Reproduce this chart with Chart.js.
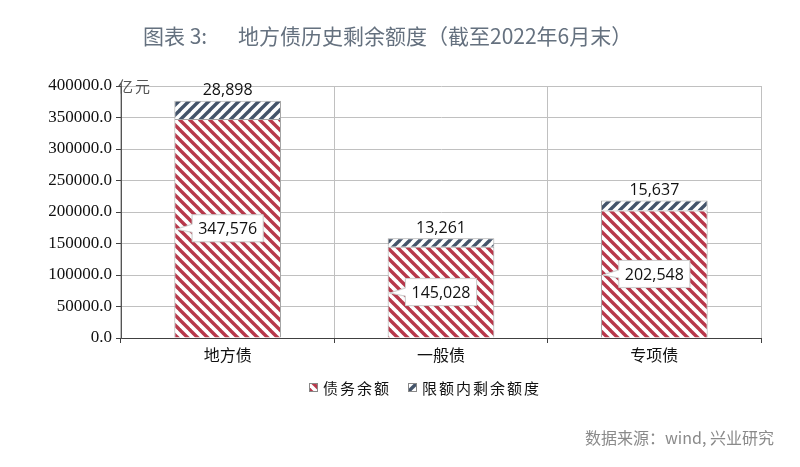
<!DOCTYPE html>
<html>
<head>
<meta charset="utf-8">
<script src="https://cdn.jsdelivr.net/npm/chart.js@4"></script>
<style>
  body { margin: 0; background: #fff; }
  #wrap { width: 800px; height: 467px; position: relative; }
</style>
</head>
<body>
<div id="wrap"><canvas id="debtChart"></canvas></div>
<script>
// data (亿元)
const categories = ['地方债', '一般债', '专项债'];
const debtBalance = [347576, 145028, 202548];      // 债务余额
const remainingQuota = [28898, 13261, 15637];      // 限额内剩余额度
const seriesNames = ['债务余额', '限额内剩余额度'];
const yTicks = { min: 0, max: 400000, step: 50000 };

const titleText = '图表 3:';
const titleMain = '地方债历史剩余额度（截至2022年6月末）';
const unitText = '亿元';
const sourceText = '数据来源：wind, 兴业研究';

// striped fills
function makeStripes(color, dir) {
    const s = 10;
    const c = document.createElement('canvas');
    c.width = s; c.height = s;
    const g = c.getContext('2d');
    g.fillStyle = '#fff';
    g.fillRect(0, 0, s, s);
    g.strokeStyle = color;
    g.lineWidth = 3.4;
    for (let k = -s; k <= s; k += s) {
        g.beginPath();
        if (dir === 'down') {
            g.moveTo(k - 1, -1); g.lineTo(k + s + 1, s + 1);
        } else {
            g.moveTo(k - 1, s + 1); g.lineTo(k + s + 1, -1);
        }
        g.stroke();
    }
    return g.createPattern(c, 'repeat');
}
const redStripes = makeStripes('#b8384b', 'down');
const blueStripes = makeStripes('#44546a', 'up');

const fmt = v => v.toLocaleString('en-US');

// labels, title, legend, source
const decorPlugin = {
    id: 'decor',
    afterDatasetsDraw(chart) {
        const ctx = chart.ctx;
        const debtMeta = chart.getDatasetMeta(0);
        const remMeta = chart.getDatasetMeta(1);
        ctx.save();
        ctx.font = '16px "Open Sans", sans-serif';
        ctx.textAlign = 'center';
        ctx.textBaseline = 'middle';

        debtMeta.data.forEach((bar, i) => {
            const cy = (bar.y + bar.base) / 2;
            const txt = fmt(debtBalance[i]);
            const w = ctx.measureText(txt).width + 12;
            const h = 27;
            const bx = bar.x - w / 2, by = cy - h / 2;
            const tipX = bar.x - bar.width / 2 + 2;
            ctx.beginPath();
            ctx.moveTo(bx, by);
            ctx.lineTo(bx + w, by);
            ctx.lineTo(bx + w, by + h);
            ctx.lineTo(bx, by + h);
            ctx.lineTo(bx, cy + 4);
            ctx.lineTo(tipX, cy + 1);
            ctx.lineTo(bx, cy - 4);
            ctx.closePath();
            ctx.shadowColor = 'rgba(0,0,0,0.15)';
            ctx.shadowBlur = 3;
            ctx.fillStyle = '#fff';
            ctx.fill();
            ctx.shadowBlur = 0;
            ctx.strokeStyle = '#cfcfcf';
            ctx.lineWidth = 1;
            ctx.stroke();
            ctx.fillStyle = '#111';
            ctx.fillText(txt, bar.x, cy + 1);
        });

        remMeta.data.forEach((bar, i) => {
            ctx.fillStyle = '#111';
            ctx.fillText(fmt(remainingQuota[i]), bar.x, bar.y - 10);
        });

        // title
        ctx.fillStyle = '#65717f';
        ctx.font = '21px "Noto Sans CJK SC", sans-serif';
        ctx.textAlign = 'left';
        ctx.fillText(titleText, 143, 36);
        ctx.fillText(titleMain, 238, 36);

        // unit
        ctx.fillStyle = '#555';
        ctx.font = '15px "Noto Sans CJK SC", sans-serif';
        ctx.letterSpacing = '2px';
        ctx.fillText(unitText, 118, 86);

        // legend
        ctx.font = '15px "Noto Sans CJK SC", sans-serif';
        const items = [
            { x: 309, fill: redStripes, name: seriesNames[0] },
            { x: 408, fill: blueStripes, name: seriesNames[1] }
        ];
        items.forEach(it => {
            ctx.fillStyle = it.fill;
            ctx.fillRect(it.x, 383, 8, 8);
            ctx.strokeStyle = '#888';
            ctx.strokeRect(it.x + 0.5, 383.5, 8, 8);
            ctx.fillStyle = '#111';
            ctx.fillText(it.name, it.x + 14, 388);
        });
        ctx.letterSpacing = '0px';

        // source
        ctx.fillStyle = '#8a8a8a';
        ctx.font = '16px "Noto Sans CJK SC", sans-serif';
        ctx.fillText(sourceText, 585, 438);
        ctx.restore();
    }
};

const ctx = document.getElementById('debtChart').getContext('2d');
new Chart(ctx, {
    type: 'bar',
    data: {
        labels: categories,
        datasets: [{
            label: seriesNames[0],
            data: debtBalance,
            backgroundColor: redStripes,
            borderColor: '#a6a6a6',
            borderWidth: 1,
            barPercentage: 0.5,
            categoryPercentage: 1
        }, {
            label: seriesNames[1],
            data: remainingQuota,
            backgroundColor: blueStripes,
            borderColor: '#a6a6a6',
            borderWidth: 1,
            barPercentage: 0.5,
            categoryPercentage: 1
        }]
    },
    options: {
        responsive: true,
        maintainAspectRatio: false,
        animation: false,
        layout: { padding: { top: 86, right: 39, bottom: 0, left: 0 } },
        plugins: {
            legend: { display: false },
            tooltip: { enabled: false }
        },
        scales: {
            x: {
                stacked: true,
                afterFit: s => { s.height = 129; },
                grid: { color: '#c0c0c0', offset: true, tickLength: 5, tickColor: '#404040' },
                border: { color: '#404040' },
                ticks: {
                    color: '#111',
                    padding: 2,
                    font: { family: '"Noto Sans CJK SC", sans-serif', size: 16 }
                }
            },
            y: {
                stacked: true,
                min: yTicks.min,
                max: yTicks.max,
                afterFit: s => { s.width = 121; },
                grid: { color: '#c0c0c0', tickLength: 5, tickColor: '#404040' },
                border: { color: '#555' },
                ticks: {
                    stepSize: yTicks.step,
                    color: '#111',
                    padding: 4,
                    font: { family: '"Liberation Serif", serif', size: 17 },
                    callback: v => v.toFixed(1)
                }
            }
        }
    },
    plugins: [decorPlugin]
});
</script>
</body>
</html>
